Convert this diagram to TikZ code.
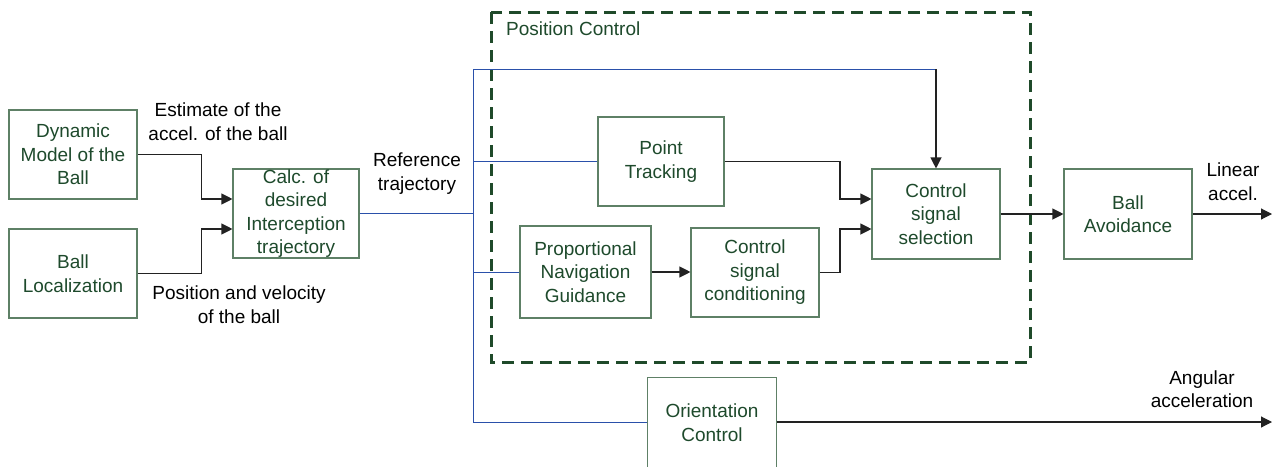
\documentclass[tikz,border=0pt]{standalone}
\usepackage{fontspec}
\setmainfont{Liberation Sans}
\usetikzlibrary{arrows.meta,calc}
\definecolor{boxline}{HTML}{5E8066}
\definecolor{boxtext}{HTML}{1E4A2C}
\definecolor{frame}{HTML}{1F4A2A}
\definecolor{busblue}{HTML}{2A50AA}
\definecolor{wire}{HTML}{222222}
\tikzset{
  txt/.style={font={\fontsize{19}{23.5}\selectfont}, align=center, inner sep=0pt},
  blk/.style={txt, draw=boxline, line width=1.1pt, text=boxtext, fill=white,
              minimum width=128pt, minimum height=89pt},
  lbl/.style={txt, text=black},
  arr/.style={draw=wire, line width=1.1pt, -{Triangle[length=11pt,width=11pt]}},
  bus/.style={draw=busblue, line width=1pt},
}
\begin{document}
\begin{tikzpicture}[x=1pt,y=-1pt]
\clip (0,0) rectangle (1282,466);
\useasboundingbox (0,0) rectangle (1282,466);

% Position Control frame
\draw[frame, line width=3pt, dash pattern=on 12pt off 7pt] (491,12) rectangle (1030,362);
\node[txt, text=boxtext, anchor=west] (pclabel) at (506,29) {Position Control};

% blocks
\node[blk] (dyn)  at (73,154.5)   {Dynamic\\Model of the\\Ball};
\node[blk] (loc)  at (73,273.5)   {Ball\\Localization};
\node[blk, minimum width=126pt] (calc) at (296,213.5) {Calc. of\\desired\\Interception\\trajectory};
\node[blk, minimum width=126pt] (pt)   at (661,161.5) {Point\\Tracking};
\node[blk, minimum width=131pt, minimum height=92pt] (png) at (585.5,272) {Proportional\\Navigation\\Guidance};
\node[blk] (csc)  at (755,272.5)  {Control\\signal\\conditioning};
\node[blk, minimum height=90pt] (sel) at (936,214) {Control\\signal\\selection};
\node[blk, minimum height=90pt] (ba)  at (1128,214) {Ball\\Avoidance};
% orientation block runs past the lower edge
\node[blk, draw=none] (oc) at (712,422.5) {Orientation\\Control};
\draw[boxline, line width=1.1pt] ($(oc.south west)+(0,8)$) -- (oc.north west) -- (oc.north east) -- ($(oc.south east)+(0,8)$);

% labels
\node[lbl] (lest) at (218,121.5) {Estimate of the\\accel. of the ball};
\node[lbl] (lpos) at (239,304.5) {Position and velocity\\of the ball};
\node[lbl] (lref) at (417,173.5) {Reference\\trajectory};
\node[lbl] (llin) at (1233,181.5) {Linear\\accel.};
\node[lbl] (lang) at (1202,389) {Angular\\acceleration};

% bus coordinates
\coordinate (bustop) at (473,69);
\coordinate (busbot) at (473,422);
\coordinate (busmid) at (473,213.5);
\coordinate (turn)   at (936,69);
\coordinate (linout) at (1272,214);
\coordinate (angout) at (1272,422);

% inputs to trajectory calculation
\draw[arr] (dyn.east) -- ++(64,0) |- ($(calc.west)+(0,-14.5)$);
\draw[arr] (loc.east) -- ++(64,0) |- ($(calc.west)+(0,15.5)$);

% reference trajectory distribution
\draw[bus] (calc.east) -- (busmid);
\draw[bus] (bustop) -- (busbot);
\draw[bus] (bustop) -- (turn);
\draw[arr] (turn) -- (sel.north);
\draw[bus] (bustop |- pt.west) -- (pt.west);
\draw[bus] (bustop |- png.west) -- (png.west);
\draw[bus] (busbot) -- (oc.west |- busbot);

% position control internals
\draw[arr] (png.east) -- (csc.west |- png.east);
\draw[arr] (pt.east) -- (840,161.5) |- ($(sel.west)+(0,-15)$);
\draw[arr] (csc.east) -- (840,272.5) |- ($(sel.west)+(0,15)$);

% outputs
\draw[arr] (sel.east) -- (ba.west);
\draw[arr] (ba.east) -- (linout);
\draw[arr] (oc.east |- angout) -- (angout);
\end{tikzpicture}
\end{document}
